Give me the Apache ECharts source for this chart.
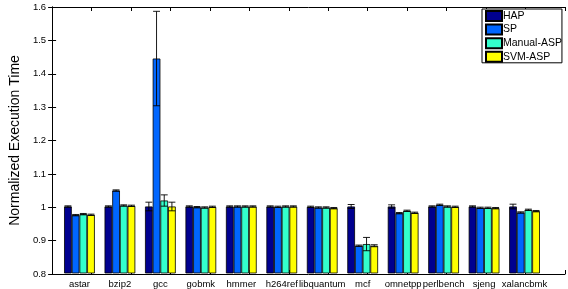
<!DOCTYPE html>
<html>
<head>
<meta charset="utf-8">
<script src="https://cdn.jsdelivr.net/npm/echarts@6/dist/echarts.min.js"></script>
<style>html,body{margin:0;padding:0;background:#fff;}#c{width:568px;height:289px;}</style>
</head>
<body>
<div id="c"></div>
<script>
const categories = ['astar','bzip2','gcc','gobmk','hmmer','h264ref','libquantum','mcf','omnetpp','perlbench','sjeng','xalancbmk'];
const seriesNames = ['HAP','SP','Manual-ASP','SVM-ASP'];
const hap    = [1.000, 1.000, 1.000, 1.000, 1.000, 1.000, 0.999, 1.000, 1.000, 1.000, 1.000, 1.000];
const sp     = [0.974, 1.048, 1.445, 0.998, 1.000, 0.999, 0.997, 0.882, 0.980, 1.005, 0.996, 0.982];
const manual = [0.977, 1.003, 1.018, 0.997, 1.000, 1.000, 0.997, 0.887, 0.987, 1.000, 0.996, 0.990];
const svm    = [0.975, 1.002, 1.000, 0.999, 1.000, 1.000, 0.995, 0.882, 0.981, 0.999, 0.995, 0.986];
const hapErr    = [0.002, 0.002, 0.013, 0.002, 0.002, 0.002, 0.002, 0.006, 0.005, 0.002, 0.002, 0.007];
const spErr     = [0.002, 0.002, 0.142, 0.002, 0.002, 0.002, 0.002, 0.002, 0.002, 0.002, 0.002, 0.002];
const manualErr = [0.002, 0.002, 0.017, 0.002, 0.002, 0.002, 0.002, 0.020, 0.002, 0.002, 0.002, 0.002];
const svmErr    = [0.002, 0.002, 0.013, 0.002, 0.002, 0.002, 0.002, 0.003, 0.002, 0.002, 0.002, 0.002];
const yTicks = ['0.8','0.9','1','1.1','1.2','1.3','1.4','1.5','1.6'];

const colors = ['#00008F', '#0066FF', '#33FFCC', '#FFFF00'];
const values = [hap, sp, manual, svm];
const errs = [hapErr, spErr, manualErr, svmErr];
const BAR_FRAC = 0.19;

// frame grid spans x in [0, 13]; data grid holds 12 category bands inside it
const FL = 39, FR = 3, FT = 7, FB = 15;
const frameW = 568 - FL - FR;
const half = frameW / 13 / 2;

const series = [];
values.forEach((vals, k) => {
  series.push({
    name: seriesNames[k],
    type: 'bar',
    xAxisIndex: 0, yAxisIndex: 0,
    barWidth: (BAR_FRAC * 100) + '%',
    barGap: '0%',
    itemStyle: { color: colors[k], borderColor: '#000', borderWidth: 0.8 },
    data: vals,
    z: 2
  });
});
values.forEach((vals, k) => {
  const data = vals.map((v, i) => [i, v - errs[k][i], v + errs[k][i]]);
  series.push({
    type: 'custom',
    xAxisIndex: 0, yAxisIndex: 0,
    z: 5,
    silent: true,
    data: data,
    renderItem: function (params, api) {
      const band = api.size([1, 0])[0];
      const bw = band * BAR_FRAC;
      const lo = api.coord([api.value(0), api.value(1)]);
      const hi = api.coord([api.value(0), api.value(2)]);
      const x = lo[0] - 2 * bw + bw * (k + 0.5);
      const cap = bw * 0.45;
      const st = { stroke: '#000', lineWidth: 0.9 };
      return {
        type: 'group',
        children: [
          { type: 'line', shape: { x1: x, y1: lo[1], x2: x, y2: hi[1] }, style: st },
          { type: 'line', shape: { x1: x - cap, y1: lo[1], x2: x + cap, y2: lo[1] }, style: st },
          { type: 'line', shape: { x1: x - cap, y1: hi[1], x2: x + cap, y2: hi[1] }, style: st }
        ]
      };
    }
  });
});

const axisLine = { show: true, lineStyle: { color: '#000', width: 1 } };
const tick = { show: true, inside: true, length: 4, lineStyle: { color: '#000' } };
const chart = echarts.init(document.getElementById('c'), null, { renderer: 'canvas' });
chart.setOption({
  animation: false,
  backgroundColor: '#fff',
  textStyle: { fontFamily: 'Liberation Sans, Arial, sans-serif' },
  grid: [
    { left: FL + half, right: FR + half, top: FT, bottom: FB, containLabel: false },
    { left: FL, right: FR, top: FT, bottom: FB, containLabel: false }
  ],
  legend: {
    data: seriesNames,
    orient: 'vertical',
    left: 482, top: 9,
    itemWidth: 16, itemHeight: 10, itemGap: 1.6,
    padding: [1, 0, 0, 3],
    borderColor: '#000', borderWidth: 1,
    backgroundColor: '#fff',
    icon: 'rect',
    textStyle: { fontSize: 10.5, color: '#000', padding: [0, 0, 0, -4], fontFamily: 'Liberation Sans, Arial, sans-serif', lineHeight: 12 }
  },
  xAxis: [
    {
      gridIndex: 0, type: 'category', data: categories, boundaryGap: true, position: 'bottom',
      axisLine: { show: false }, axisTick: { show: false },
      axisLabel: { show: true, interval: 0, color: '#000', fontSize: 9.5, margin: 6 },
      splitLine: { show: false }
    },
    {
      gridIndex: 1, type: 'value', min: 0, max: 13, interval: 1, position: 'bottom',
      axisLine: axisLine, axisTick: tick, axisLabel: { show: false }, splitLine: { show: false }
    },
    {
      gridIndex: 1, type: 'value', min: 0, max: 13, interval: 1, position: 'top',
      axisLine: axisLine, axisTick: tick, axisLabel: { show: false }, splitLine: { show: false }
    }
  ],
  yAxis: [
    {
      gridIndex: 0, type: 'value', min: 0.8, max: 1.6, interval: 0.1, show: false
    },
    {
      gridIndex: 1, type: 'value', min: 0.8, max: 1.6, interval: 0.1, position: 'left',
      name: 'Normalized Execution Time', nameLocation: 'middle', nameGap: 29,
      nameTextStyle: { fontSize: 14, color: '#000' },
      axisLine: axisLine, axisTick: tick,
      axisLabel: { color: '#000', fontSize: 9.5, margin: 6,
        formatter: function (v) { return yTicks[Math.round((v - 0.8) * 10)]; } },
      splitLine: { show: false }
    },
    {
      gridIndex: 1, type: 'value', min: 0.8, max: 1.6, interval: 0.1, position: 'right',
      axisLine: axisLine, axisTick: tick, axisLabel: { show: false }, splitLine: { show: false }
    }
  ],
  series: series
});
</script>
</body>
</html>
